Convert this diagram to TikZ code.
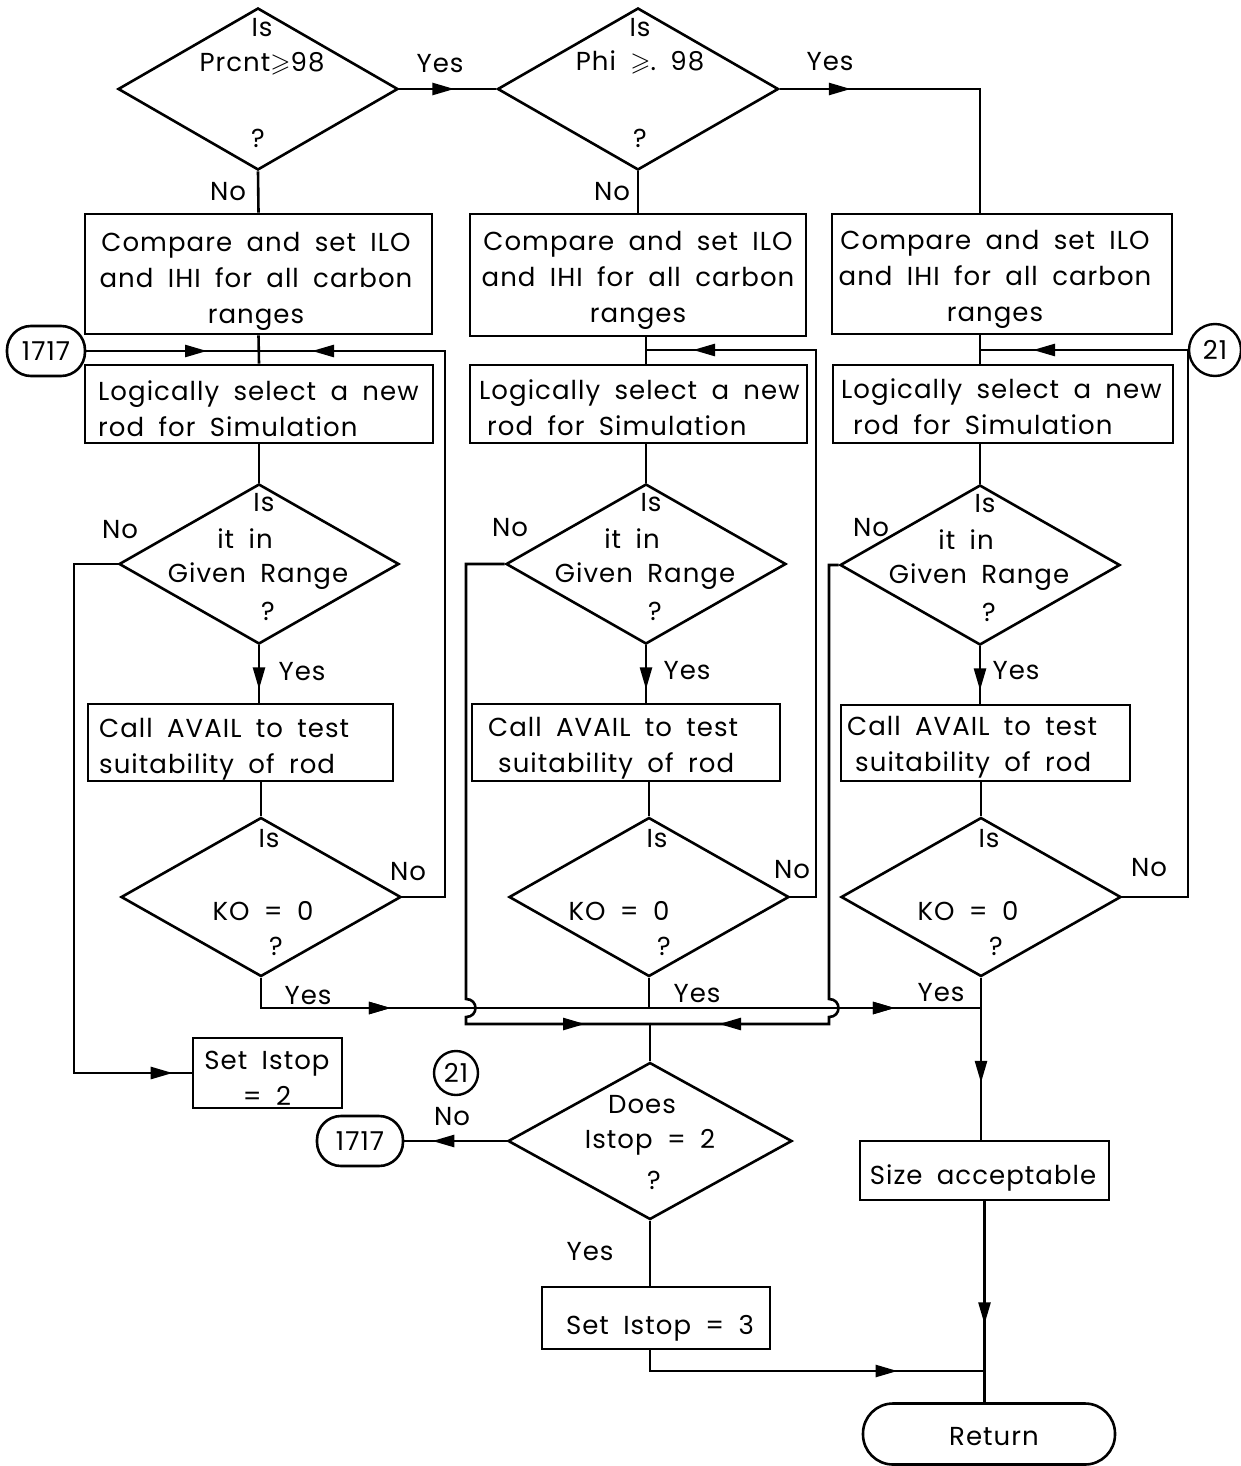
\documentclass[tikz,border=0pt]{standalone}
\usepackage{fontspec}
\setmainfont{Poppins}[LetterSpace=4, WordSpace=1.8]
\usepackage{amssymb}
\usetikzlibrary{shapes.geometric,arrows.meta,decorations.markings,calc}

\tikzset{
  every node/.style={font=\fontsize{26}{36}\selectfont},
  line/.style={line width=2.6pt},
  box/.style={draw, rectangle, line width=2.6pt, inner sep=0pt},
  dec/.style={draw, diamond, line width=2.6pt, inner sep=0pt},
  term/.style={draw, rectangle, rounded corners=24pt, line width=2.6pt, inner sep=0pt},
  conn/.style={draw, circle, line width=2.4pt, inner sep=0pt},
  lab/.style={inner sep=0pt},
  txt/.style={inner sep=0pt, align=center},
  ltxt/.style={inner sep=0pt, align=left, anchor=west},
  arr/.style={postaction={decorate}, decoration={markings,
      mark=at position #1 with {\arrow{Triangle[length=22pt,width=12pt]}}}},
}

\begin{document}
\begin{tikzpicture}[x=1pt,y=-1pt]
\useasboundingbox[fill=white] (0,0) rectangle (1240,1466);

% ---------- top decisions ----------
\node[dec, minimum width=280pt, minimum height=162pt] (D1) at (258,89) {};
\node[lab] (D1a) at (262,28) {Is};
\node[lab] (D1b) at (262,64) {Prcnt$\geqslant$98};
\node[lab] (D1c) at (258,138) {?};

\node[dec, minimum width=281pt, minimum height=162pt] (D2) at (638,89) {};
\node[lab] (D2a) at (640,28) {Is};
\node[lab] (D2b) at (640,62) {Phi $\geqslant$.\ 98};
\node[lab] (D2c) at (640,138) {?};

\node[lab] (y1) at (440,64) {Yes};
\node[lab] (y2) at (830,62) {Yes};
\node[lab] (n1) at (228,192) {No};
\node[lab] (n2) at (612,192) {No};

% ---------- compare boxes ----------
\node[box, minimum width=347pt, minimum height=120pt] (C1) at (258.5,274) {};
\node[box, minimum width=336pt, minimum height=122pt] (C2) at (638,275) {};
\node[box, minimum width=340pt, minimum height=120pt] (C3) at (1002,274) {};
\node[txt] (C1t) at (256,281) {Compare and set ILO\\and IHI for all carbon\\ranges};
\node[txt] (C2t) at (638,280) {Compare and set ILO\\and IHI for all carbon\\ranges};
\node[txt] (C3t) at (995,279) {Compare and set ILO\\and IHI for all carbon\\ranges};

% ---------- select boxes ----------
\node[box, minimum width=348pt, minimum height=78pt] (L1) at (259,404) {};
\node[box, minimum width=337pt, minimum height=78pt] (L2) at (638.5,404) {};
\node[box, minimum width=340pt, minimum height=78pt] (L3) at (1003,404) {};
\node[ltxt] (L1t) at (98,409) {Logically select a new\\rod for Simulation};
\node[ltxt] (L2t) at (479,408) {Logically select a new\\\hspace{8pt}rod for Simulation};
\node[ltxt] (L3t) at (841,407) {Logically select a new\\\hspace{12pt}rod for Simulation};

% ---------- range decisions ----------
\foreach \n/\cx/\cy in {G1/259/564, G2/646/564, G3/980/565}{
  \node[dec, minimum width=280pt, minimum height=160pt] (\n) at (\cx,\cy) {};
  \node[lab] (\n a) at ($(\n)+(5,-61)$) {Is};
  \node[lab] (\n b) at ($(\n)+(-14,-25)$) {it in};
  \node[lab] (\n c) at ($(\n)+(-1,12)$) {Given Range};
  \node[lab] (\n d) at ($(\n)+(9,47)$) {?};
}
\node[lab] (n3) at (120,530) {No};
\node[lab] (n4) at (510,528) {No};
\node[lab] (n5) at (871,528) {No};
\node[lab] (y3) at (302,672) {Yes};
\node[lab] (y4) at (687,671) {Yes};
\node[lab] (y5) at (1016,671) {Yes};

% ---------- AVAIL boxes ----------
\node[box, minimum width=305pt, minimum height=77pt] (A1) at (240.5,742.5) {};
\node[box, minimum width=308pt, minimum height=77pt] (A2) at (626,742.5) {};
\node[box, minimum width=289pt, minimum height=76pt] (A3) at (985.5,743) {};
\node[ltxt] (A1t) at (99,749) {Call AVAIL to test\\suitability of rod};
\node[ltxt] (A2t) at (488,748) {Call AVAIL to test\\\hspace{10pt}suitability of rod};
\node[ltxt] (A3t) at (847,747) {Call AVAIL to test\\\hspace{8pt}suitability of rod};

% ---------- KO decisions ----------
\foreach \n/\cx/\kx in {K1/261/263, K2/649/619, K3/981/968}{
  \node[dec, minimum width=280pt, minimum height=159pt] (\n) at (\cx,897) {};
  \node[lab] (\n a) at ($(\n)+(8,-58)$) {Is};
  \node[lab] (\n b) at (\kx,911) {KO = 0};
  \node[lab] (\n c) at ($(\n)+(15,49)$) {?};
}
\node[lab] (n6) at (408,872) {No};
\node[lab] (n7) at (792,870) {No};
\node[lab] (n8) at (1149,868) {No};
\node[lab] (y6) at (308,996) {Yes};
\node[lab] (y7) at (697,994) {Yes};
\node[lab] (y8) at (941,993) {Yes};

% ---------- lower part ----------
\node[box, minimum width=149pt, minimum height=70pt] (S2) at (267.5,1073) {};
\node[txt] (S2t) at (267,1078) {Set Istop\\= 2};
\node[dec, minimum width=284pt, minimum height=157pt] (ID) at (650,1141) {};
\node[lab] (IDa) at (642,1105) {Does};
\node[lab] (IDb) at (650,1142) {Istop = 2};
\node[lab] (IDc) at (654,1180) {?};
\node[lab] (n9) at (452,1117) {No};
\node[lab] (y9) at (590,1252) {Yes};
\node[conn, minimum size=44pt] (R21b) at (456,1073) {21};
\node[term, minimum width=86pt, minimum height=50pt] (O2) at (360,1141) {1717};
\node[box, minimum width=228pt, minimum height=62pt] (S3) at (656,1318) {};
\node[lab] (S3t) at (660,1328) {Set Istop = 3};
\node[box, minimum width=249pt, minimum height=59pt] (SA) at (984.5,1170.5) {};
\node[lab] (SAt) at (983,1178) {Size acceptable};
\node[draw, rectangle, rounded corners=30pt, line width=2.6pt, minimum width=252pt,
      minimum height=61pt, inner sep=0pt] (R) at (989,1434) {};
\node[lab] (Rt) at (994,1437) {Return};

% ---------- off-page connectors ----------
\node[term, minimum width=78pt, minimum height=50pt, rounded corners=24pt] (O1) at (46,351) {1717};
\node[conn, minimum size=52pt] (R21) at (1215,350) {21};

% ---------- junctions ----------
\coordinate (J1) at (258,351);
\coordinate (J3) at (646,350);
\coordinate (J4) at (980,350);
\coordinate (YJ) at (981,1008);
\coordinate (J2) at (650,1024);
\coordinate (J5) at (984.5,1371);

% ---------- connectors ----------
\draw[line, arr=55pt] (D1.east) -- (D2.west);
\draw[line, arr=71pt] (D2.east) -| (G3.north |- C3.north);
\draw[line] (D1.south) -- (C1.north);
\draw[line] (D2.south) -- (C2.north);

\draw[line] (C1.south) -- (L1.north);
\draw[line] (G2.north |- C2.south) -- (G2.north |- L2.north);
\draw[line] (G3.north |- C3.south) -- (G3.north |- L3.north);

\draw[line, arr=-51pt] (O1.east) -- (J1);
\draw[line, arr=-54pt] (K1.east) -- (445,897) -- (445,351) -- (J1);
\draw[line, arr=-47pt] (K2.east) -- (816,897) -- (816,350) -- (J3);
\draw[line] (K3.east) -| (R21.west);
\draw[line, arr=-53pt] (R21.west) -- (J4);

\draw[line] (G1.north |- L1.south) -- (G1.north);
\draw[line] (G2.north |- L2.south) -- (G2.north);
\draw[line] (G3.north |- L3.south) -- (G3.north);

\draw[line, arr=44pt] (G1.south) -- (G1.south |- A1.north);
\draw[line, arr=44pt] (G2.south) -- (G2.south |- A2.north);
\draw[line, arr=44pt] (G3.south) -- (G3.south |- A3.north);

\draw[line] (K1.north |- A1.south) -- (K1.north);
\draw[line] (K2.north |- A2.south) -- (K2.north);
\draw[line] (K3.north |- A3.south) -- (K3.north);

\draw[line, arr=-19pt] (G1.west) -- (74,564) -- (74,1073) -- (S2.west);
\draw[line, arr=160pt, arr=664pt] (K1.south) -- (K1.south |- YJ) -- (YJ);
\draw[line] (K2.south) -- (K2.south |- YJ);
\draw[line, arr=105pt] (K3.south) -- (K3.south |- SA.north);

\draw[line, arr=-65pt] (G2.west) -- (466,564) -- (466,999)
   to[out=0,in=0,looseness=1.8] (466,1017) -- (466,1024) -- (J2);
\draw[line, arr=-69pt] (G3.west) -- (829,565) -- (829,999)
   to[out=0,in=0,looseness=1.8] (829,1017) -- (829,1024) -- (J2);
\draw[line] (J2) -- (ID.north);

\draw[line, arr=-28pt] (ID.west) -- (O2.east);
\draw[line] (ID.south) -- (ID.south |- S3.north);
\draw[line, arr=-87pt] (ID.south |- S3.south) -- (ID.south |- J5) -- (J5);
\draw[line, arr=123pt] (SA.south) -- (SA.south |- R.north);
\end{tikzpicture}
\end{document}
